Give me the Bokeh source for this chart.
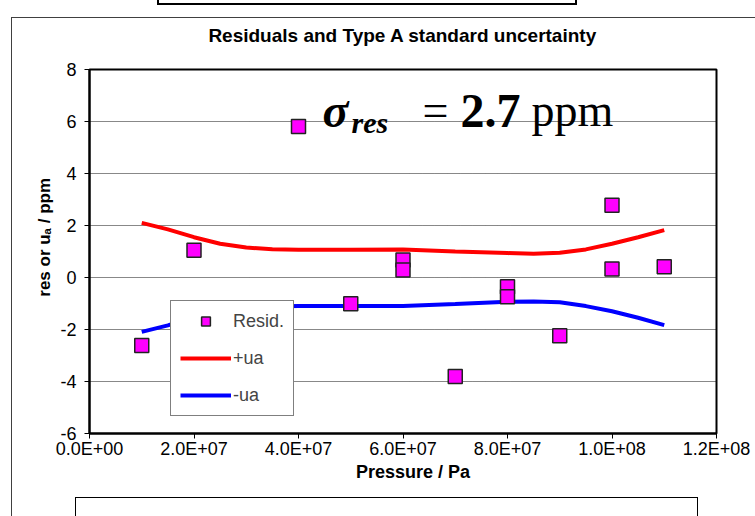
from bokeh.plotting import figure
from bokeh.models import (Range1d, FixedTicker, Label, Legend, LegendItem,
                          ColumnDataSource, InlineStyleSheet, Title)
from bokeh.layouts import column
from bokeh.embed import file_html
from bokeh.resources import INLINE

# Residuals of the calibration fit (ppm) at each pressure point (Pa)
pressure = [1.0e7, 2.0e7, 4.0e7, 5.0e7, 6.0e7, 6.0e7, 7.0e7,
            8.0e7, 8.0e7, 9.0e7, 1.0e8, 1.0e8, 1.1e8]
resid = [-2.62, 1.05, 5.81, -1.01, 0.67, 0.29, -3.81,
         -0.36, -0.74, -2.24, 2.78, 0.33, 0.41]

# Type A standard uncertainty band (ppm)
ua_pressure = [1.0e7, 1.5e7, 2.0e7, 2.5e7, 3.0e7, 3.5e7, 4.0e7, 5.0e7, 6.0e7,
               7.0e7, 8.0e7, 8.5e7, 9.0e7, 9.5e7, 1.0e8, 1.05e8, 1.1e8]
plus_ua = [2.10, 1.85, 1.55, 1.30, 1.15, 1.09, 1.07, 1.07, 1.08,
           1.00, 0.94, 0.91, 0.95, 1.08, 1.30, 1.55, 1.82]
minus_ua = [-2.09, -1.84, -1.52, -1.30, -1.17, -1.12, -1.10, -1.10, -1.10,
            -1.02, -0.93, -0.92, -0.95, -1.10, -1.30, -1.55, -1.83]

x_ticks = [0, 2.0e7, 4.0e7, 6.0e7, 8.0e7, 1.0e8, 1.2e8]
x_tick_labels = ["0.0E+00", "2.0E+07", "4.0E+07", "6.0E+07",
                 "8.0E+07", "1.0E+08", "1.2E+08"]
y_ticks = [-6, -4, -2, 0, 2, 4, 6, 8]
y_tick_labels = ["-6", "-4", "-2", "0", "2", "4", "6", "8"]

W, H = 755, 516
FL, FR, FT, FB = 89, 716, 69, 433   # frame edges on the canvas
FONT = "Liberation Sans"
SERIF = "Liberation Serif"
NBSP = "\u00a0"


def fx(px):
    """canvas x -> frame-relative screen x"""
    return px - FL


def fy(py):
    """canvas y -> frame-relative screen y (upwards)"""
    return FB - py


p = figure(width=W, height=H, output_backend="svg", toolbar_location=None,
           x_range=Range1d(0, 1.2e8), y_range=Range1d(-6, 8),
           min_border_left=FL, min_border_right=W - FR,
           min_border_top=FT, min_border_bottom=H - FB)
p.background_fill_color = "white"
p.border_fill_color = "white"
p.outline_line_color = "black"
p.outline_line_width = 2

# empty spacer between the frame and the title
p.add_layout(Title(text=NBSP, text_font_size="16px", standoff=0), "above")

p.title.text = "Residuals and Type A standard uncertainty"
p.title.align = "center"
p.title.text_font = FONT
p.title.text_font_size = "19px"
p.title.text_font_style = "bold"
p.title.text_color = "black"

for ax in (p.xaxis[0], p.yaxis[0]):
    ax.axis_line_color = "black"
    ax.axis_line_width = 2
    ax.major_tick_line_color = "black"
    ax.major_tick_line_width = 1
    ax.major_tick_in = 0
    ax.major_tick_out = 5
    ax.minor_tick_line_color = None
    ax.major_label_text_font = FONT
    ax.major_label_text_font_size = "18px"
    ax.major_label_text_color = "black"
    ax.axis_label_text_font = FONT
    ax.axis_label_text_font_style = "bold"
    ax.axis_label_text_color = "black"

p.xaxis[0].ticker = FixedTicker(ticks=x_ticks)
p.xaxis[0].major_label_overrides = dict(zip(x_ticks, x_tick_labels))
p.xaxis[0].major_label_standoff = 0
p.xaxis[0].axis_label = NBSP * 4 + "Pressure / Pa"
p.xaxis[0].axis_label_text_font_size = "18px"
p.xaxis[0].axis_label_standoff = 0

p.yaxis[0].ticker = FixedTicker(ticks=y_ticks)
p.yaxis[0].major_label_overrides = dict(zip(y_ticks, y_tick_labels))
p.yaxis[0].major_label_standoff = 8
p.yaxis[0].axis_label = NBSP * 6 + "res or u\u2090 / ppm"
p.yaxis[0].axis_label_text_font_size = "17px"
p.yaxis[0].axis_label_standoff = 3

p.xgrid.grid_line_color = None
p.ygrid.grid_line_color = "#111111"
p.ygrid.grid_line_dash = "1 1"
p.ygrid.grid_line_width = 1

src_pts = ColumnDataSource(dict(x=pressure, y=resid))
src_ua = ColumnDataSource(dict(x=ua_pressure, up=plus_ua, lo=minus_ua))

r_up = p.line("x", "up", source=src_ua, line_color="#FF0000", line_width=4)
r_lo = p.line("x", "lo", source=src_ua, line_color="#0000FF", line_width=4)
r_pts = p.scatter("x", "y", source=src_pts, marker="square", size=14,
                  fill_color="#FF00FF", line_color="#222222", line_width=1.5)

legend = Legend(items=[LegendItem(label="Resid.", renderers=[r_pts]),
                       LegendItem(label="+ua", renderers=[r_up]),
                       LegendItem(label="-ua", renderers=[r_lo])],
                location=(fx(170), fy(416)), orientation="vertical",
                padding=9, margin=0, spacing=15, glyph_width=51,
                glyph_height=22, label_height=22, label_standoff=2,
                label_text_font=FONT, label_text_font_size="18px",
                border_line_color="black", border_line_width=1,
                background_fill_color="white", background_fill_alpha=1)
p.add_layout(legend, "center")

# sigma_res = 2.7 ppm annotation
base = 110
for txt, x0, y0, size, style in [("\u03c3", 322, base, "48px", "bold italic"),
                                 ("res", 351, base + 12, "30px", "bold italic"),
                                 ("=", 422, base, "46px", "normal"),
                                 ("2.7", 460, base, "48px", "bold"),
                                 ("ppm", 531, base, "46px", "normal")]:
    p.add_layout(Label(x=fx(x0), y=fy(y0), x_units="screen", y_units="screen",
                       text=txt, text_align="left", text_baseline="alphabetic",
                       text_font=SERIF, text_font_size=size,
                       text_font_style=style, text_color="black"))

# page frames around the chart: outer chart border, and the edges of the
# neighbouring boxes above and below it
p.stylesheets = [InlineStyleSheet(css="""
:host { position: relative; }
:host::before {
  content: ""; position: absolute; z-index: 10; pointer-events: none;
  box-sizing: border-box; left: 11px; top: 17px; width: 744px; height: 499px;
  border: 1px solid #404040; border-bottom: none; border-right: none;
}
:host::after {
  content: ""; position: absolute; z-index: 10; pointer-events: none;
  box-sizing: border-box; left: 157px; top: 0px; width: 420px; height: 5px;
  border: 2px solid #000000; border-top: none;
}
""")]

page = column(p, width=W, height=H)
page.stylesheets = [InlineStyleSheet(css="""
:host { position: relative; }
:host::after {
  content: ""; position: absolute; z-index: 10; pointer-events: none;
  box-sizing: border-box; left: 75px; top: 497px; width: 623px; height: 19px;
  border: 1.5px solid #000000; border-bottom: none;
}
""")]

open("out.html", "w").write(file_html(page, INLINE))
